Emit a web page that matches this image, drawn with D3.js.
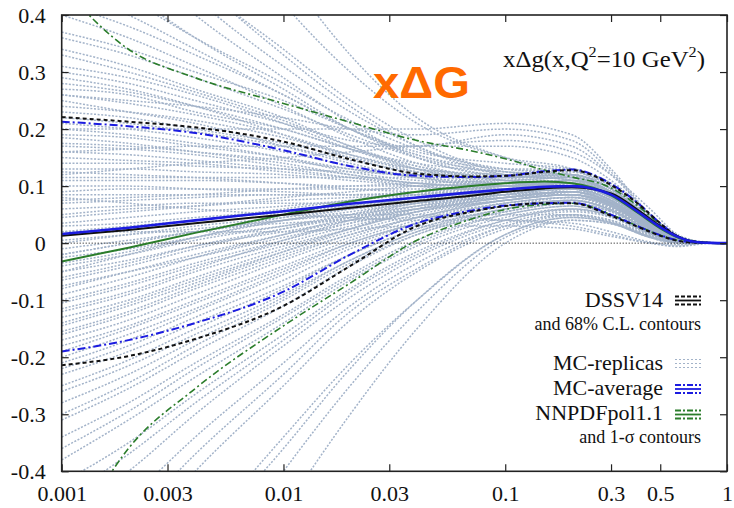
<!DOCTYPE html>
<html><head><meta charset="utf-8">
<script src="https://cdn.jsdelivr.net/npm/d3@7"></script>
<style>body{margin:0;background:#fff} text{font-family:'Liberation Serif','Times New Roman',serif}</style>
</head><body><svg id="c" width="734" height="508"></svg>
<script>
// ---- tick values & labels
const xTicks = [0.001, 0.003, 0.01, 0.03, 0.1, 0.3, 0.5, 1];
const xTickLabels = ["0.001", "0.003", "0.01", "0.03", "0.1", "0.3", "0.5", "1"];
const yTicks = [-0.4, -0.3, -0.2, -0.1, 0, 0.1, 0.2, 0.3, 0.4];
const yTickLabels = ["-0.4", "-0.3", "-0.2", "-0.1", "0", "0.1", "0.2", "0.3", "0.4"];

// ---- central curves & contours (x grid)
const xGrid = [0.001, 0.002, 0.004, 0.01, 0.02, 0.04, 0.07, 0.1, 0.15, 0.2, 0.3, 0.4, 0.5, 0.6, 0.7, 0.85, 1];
const dssvCentral = [0.013, 0.023, 0.035, 0.05, 0.062, 0.074, 0.083, 0.09, 0.096, 0.098, 0.087, 0.057, 0.03, 0.012, 0.003, 0.0004, 0];
const dssvUpper   = [0.221, 0.213, 0.203, 0.178, 0.147, 0.122, 0.117, 0.118, 0.125, 0.128, 0.102, 0.068, 0.035, 0.011, 0.003, 0.0004, 0];
const dssvLower   = [-0.214, -0.198, -0.168, -0.11, -0.04, 0.03, 0.055, 0.065, 0.07, 0.07, 0.048, 0.028, 0.013, 0.004, 0.001, 0.0002, 0];
const mcAverage   = [0.016, 0.027, 0.04, 0.056, 0.069, 0.08, 0.089, 0.094, 0.099, 0.1, 0.085, 0.054, 0.028, 0.011, 0.003, 0.0004, 0];
const mcUpper     = [0.213, 0.205, 0.193, 0.163, 0.135, 0.118, 0.116, 0.118, 0.126, 0.129, 0.104, 0.069, 0.035, 0.012, 0.003, 0.0004, 0];
const mcLower     = [-0.19, -0.17, -0.14, -0.085, -0.02, 0.035, 0.057, 0.066, 0.07, 0.071, 0.05, 0.029, 0.014, 0.005, 0.0015, 0.0002, 0];
const nnpdfCentral= [-0.032, -0.008, 0.018, 0.05, 0.073, 0.09, 0.1, 0.105, 0.108, 0.105, 0.084, 0.052, 0.026, 0.01, 0.003, 0.0004, 0];
const nnpdfUpper  = [0.45, 0.34, 0.29, 0.245, 0.212, 0.18, 0.162, 0.148, 0.128, 0.116, 0.097, 0.064, 0.033, 0.012, 0.004, 0.0005, 0];
const nnpdfLower  = [-0.55, -0.36, -0.255, -0.145, -0.07, 0.005, 0.042, 0.059, 0.068, 0.07, 0.05, 0.029, 0.014, 0.005, 0.0015, 0.0002, 0];

// ---- MC replicas (x grid + values)
const replicaX = [0.001, 0.002, 0.004, 0.01, 0.02, 0.04, 0.1, 0.2, 0.3, 0.45, 0.6, 0.8, 1];
const replicas = [
  [1.2, 0.95, 0.72, 0.48, 0.33, 0.22, 0.15, 0.12, 0.09, 0.04, 0.008, 0.001, 0],
  [0.80, 0.62, 0.47, 0.33, 0.24, 0.17, 0.12, 0.11, 0.085, 0.035, 0.006, 0.0005, 0],
  [0.70, 0.58, 0.46, 0.34, 0.25, 0.18, 0.13, 0.13, 0.10, 0.045, 0.01, 0.001, 0],
  [0.60, 0.50, 0.40, 0.29, 0.21, 0.15, 0.115, 0.105, 0.08, 0.03, 0.005, 0, 0],
  [0.52, 0.44, 0.36, 0.27, 0.20, 0.15, 0.12, 0.12, 0.095, 0.04, 0.008, 0.001, 0],
  [0.45, 0.40, 0.34, 0.26, 0.20, 0.155, 0.13, 0.125, 0.10, 0.045, 0.01, 0.001, 0],
  [0.40, 0.36, 0.31, 0.24, 0.185, 0.14, 0.11, 0.10, 0.075, 0.03, 0.005, 0, 0],
  [0.37, 0.34, 0.30, 0.25, 0.20, 0.16, 0.14, 0.13, 0.105, 0.05, 0.012, 0.001, 0],
  [0.34, 0.31, 0.27, 0.22, 0.17, 0.13, 0.105, 0.10, 0.08, 0.035, 0.006, 0, 0],
  [0.31, 0.29, 0.26, 0.21, 0.165, 0.13, 0.11, 0.115, 0.09, 0.04, 0.008, 0.001, 0],
  [0.29, 0.27, 0.24, 0.19, 0.15, 0.12, 0.10, 0.095, 0.07, 0.028, 0.004, 0, 0],
  [0.27, 0.26, 0.23, 0.20, 0.165, 0.14, 0.125, 0.12, 0.095, 0.042, 0.009, 0.001, 0],
  [0.25, 0.23, 0.21, 0.17, 0.14, 0.115, 0.10, 0.10, 0.08, 0.033, 0.006, 0, 0],
  [0.23, 0.22, 0.20, 0.175, 0.15, 0.13, 0.12, 0.115, 0.088, 0.038, 0.007, 0.001, 0],
  [0.21, 0.20, 0.185, 0.16, 0.135, 0.115, 0.10, 0.105, 0.085, 0.036, 0.006, 0, 0],
  [0.19, 0.185, 0.17, 0.15, 0.13, 0.115, 0.105, 0.10, 0.075, 0.03, 0.005, 0, 0],
  [0.17, 0.165, 0.155, 0.135, 0.12, 0.105, 0.10, 0.11, 0.09, 0.04, 0.008, 0.001, 0],
  [0.15, 0.145, 0.14, 0.125, 0.115, 0.105, 0.10, 0.10, 0.08, 0.034, 0.006, 0, 0],
  [0.13, 0.13, 0.125, 0.12, 0.11, 0.10, 0.095, 0.095, 0.07, 0.028, 0.004, 0, 0],
  [0.11, 0.11, 0.11, 0.105, 0.10, 0.10, 0.105, 0.11, 0.09, 0.04, 0.008, 0.001, 0],
  [0.09, 0.095, 0.095, 0.095, 0.095, 0.095, 0.095, 0.10, 0.08, 0.035, 0.006, 0, 0],
  [0.07, 0.075, 0.08, 0.085, 0.085, 0.09, 0.10, 0.105, 0.085, 0.038, 0.007, 0.001, 0],
  [0.05, 0.06, 0.065, 0.075, 0.08, 0.085, 0.09, 0.095, 0.075, 0.032, 0.005, 0, 0],
  [0.035, 0.045, 0.055, 0.065, 0.075, 0.085, 0.095, 0.10, 0.08, 0.035, 0.006, 0, 0],
  [0.02, 0.03, 0.04, 0.055, 0.065, 0.08, 0.09, 0.095, 0.075, 0.03, 0.005, 0, 0],
  [0.0, 0.015, 0.03, 0.045, 0.06, 0.075, 0.09, 0.10, 0.085, 0.038, 0.007, 0.001, 0],
  [-0.02, 0.0, 0.02, 0.04, 0.055, 0.07, 0.085, 0.09, 0.07, 0.028, 0.004, 0, 0],
  [-0.04, -0.02, 0.005, 0.03, 0.05, 0.07, 0.09, 0.10, 0.08, 0.034, 0.006, 0, 0],
  [-0.06, -0.035, -0.005, 0.025, 0.045, 0.065, 0.085, 0.095, 0.075, 0.03, 0.005, 0, 0],
  [-0.08, -0.05, -0.02, 0.015, 0.04, 0.06, 0.08, 0.09, 0.07, 0.028, 0.004, 0, 0],
  [-0.10, -0.07, -0.035, 0.005, 0.035, 0.06, 0.085, 0.095, 0.075, 0.03, 0.005, 0, 0],
  [-0.12, -0.09, -0.05, -0.005, 0.025, 0.055, 0.08, 0.09, 0.07, 0.027, 0.004, 0, 0],
  [-0.14, -0.105, -0.065, -0.015, 0.02, 0.05, 0.075, 0.085, 0.065, 0.025, 0.004, 0, 0],
  [-0.16, -0.125, -0.08, -0.025, 0.015, 0.045, 0.075, 0.085, 0.068, 0.026, 0.004, 0, 0],
  [-0.18, -0.145, -0.10, -0.04, 0.005, 0.04, 0.07, 0.08, 0.062, 0.024, 0.003, 0, 0],
  [-0.20, -0.16, -0.115, -0.05, 0.0, 0.035, 0.065, 0.075, 0.058, 0.022, 0.003, 0, 0],
  [-0.22, -0.18, -0.13, -0.065, -0.01, 0.03, 0.065, 0.08, 0.063, 0.025, 0.004, 0, 0],
  [-0.25, -0.205, -0.15, -0.08, -0.02, 0.025, 0.06, 0.075, 0.058, 0.022, 0.003, 0, 0],
  [-0.28, -0.23, -0.17, -0.095, -0.03, 0.02, 0.055, 0.07, 0.055, 0.02, 0.003, 0, 0],
  [-0.31, -0.255, -0.19, -0.11, -0.04, 0.015, 0.055, 0.07, 0.055, 0.02, 0.003, 0, 0],
  [-0.34, -0.28, -0.21, -0.125, -0.055, 0.005, 0.05, 0.065, 0.05, 0.018, 0.002, 0, 0],
  [-0.38, -0.31, -0.235, -0.14, -0.065, -0.005, 0.045, 0.06, 0.048, 0.017, 0.002, 0, 0],
  [-0.42, -0.35, -0.265, -0.16, -0.08, -0.015, 0.04, 0.058, 0.046, 0.016, 0.002, 0, 0],
  [-0.48, -0.40, -0.30, -0.18, -0.095, -0.025, 0.035, 0.055, 0.045, 0.015, 0.002, 0, 0],
  [-0.55, -0.45, -0.34, -0.21, -0.11, -0.035, 0.03, 0.05, 0.04, 0.013, 0.001, 0, 0],
  [-0.65, -0.53, -0.40, -0.25, -0.135, -0.05, 0.025, 0.048, 0.038, 0.012, 0.001, 0, 0],
  [-0.78, -0.66, -0.52, -0.34, -0.21, -0.10, 0.015, 0.045, 0.036, 0.011, 0.001, 0, 0],
  [-0.95, -0.80, -0.62, -0.40, -0.25, -0.12, 0.01, 0.04, 0.034, 0.01, 0.001, 0, 0],
  [-1.1, -0.92, -0.72, -0.47, -0.30, -0.15, 0.0, 0.04, 0.034, 0.01, 0.001, 0, 0],
  [0.30, 0.28, 0.25, 0.21, 0.18, 0.17, 0.19, 0.17, 0.12, 0.05, 0.01, 0.001, 0],
  [0.12, 0.13, 0.14, 0.15, 0.16, 0.17, 0.18, 0.16, 0.12, 0.06, 0.015, 0.002, 0],
  [-0.05, -0.02, 0.01, 0.04, 0.05, 0.05, 0.04, 0.03, 0.015, 0.0, -0.005, 0, 0],
  [0.08, 0.07, 0.06, 0.05, 0.045, 0.04, 0.04, 0.035, 0.02, 0.002, -0.003, 0, 0],
  [0.20, 0.19, 0.175, 0.15, 0.125, 0.11, 0.105, 0.11, 0.088, 0.038, 0.007, 0.001, 0],
  [0.185, 0.175, 0.16, 0.14, 0.12, 0.105, 0.095, 0.09, 0.07, 0.03, 0.005, 0, 0],
  [0.175, 0.17, 0.16, 0.145, 0.13, 0.12, 0.115, 0.12, 0.095, 0.042, 0.009, 0.001, 0],
  [0.16, 0.155, 0.145, 0.13, 0.115, 0.10, 0.09, 0.085, 0.065, 0.026, 0.004, 0, 0],
  [0.14, 0.14, 0.135, 0.13, 0.125, 0.12, 0.12, 0.125, 0.10, 0.046, 0.01, 0.001, 0],
  [0.125, 0.12, 0.115, 0.105, 0.095, 0.09, 0.085, 0.09, 0.072, 0.03, 0.005, 0, 0],
  [0.115, 0.115, 0.115, 0.115, 0.115, 0.115, 0.115, 0.115, 0.09, 0.04, 0.008, 0.001, 0],
  [0.10, 0.10, 0.095, 0.09, 0.085, 0.085, 0.09, 0.10, 0.085, 0.037, 0.007, 0.001, 0],
  [0.085, 0.085, 0.085, 0.085, 0.085, 0.085, 0.085, 0.085, 0.065, 0.026, 0.004, 0, 0],
  [0.075, 0.08, 0.085, 0.095, 0.10, 0.105, 0.11, 0.115, 0.095, 0.043, 0.009, 0.001, 0],
  [0.06, 0.065, 0.07, 0.07, 0.07, 0.075, 0.08, 0.09, 0.072, 0.03, 0.005, 0, 0],
  [0.045, 0.055, 0.065, 0.08, 0.09, 0.10, 0.105, 0.105, 0.085, 0.036, 0.006, 0, 0],
  [0.03, 0.035, 0.045, 0.055, 0.06, 0.07, 0.08, 0.085, 0.068, 0.027, 0.004, 0, 0],
  [0.015, 0.025, 0.04, 0.06, 0.075, 0.09, 0.10, 0.105, 0.088, 0.039, 0.007, 0.001, 0],
  [0.005, 0.015, 0.025, 0.04, 0.05, 0.065, 0.08, 0.09, 0.072, 0.03, 0.005, 0, 0],
  [-0.01, 0.005, 0.02, 0.045, 0.065, 0.085, 0.10, 0.11, 0.09, 0.04, 0.008, 0.001, 0],
  [-0.025, -0.01, 0.01, 0.03, 0.045, 0.06, 0.075, 0.085, 0.068, 0.027, 0.004, 0, 0],
  [-0.035, -0.015, 0.01, 0.04, 0.06, 0.08, 0.095, 0.105, 0.085, 0.037, 0.007, 0.001, 0],
  [-0.05, -0.03, -0.005, 0.02, 0.04, 0.06, 0.08, 0.09, 0.07, 0.028, 0.004, 0, 0],
  [-0.065, -0.04, -0.01, 0.025, 0.05, 0.075, 0.095, 0.10, 0.08, 0.034, 0.006, 0, 0],
  [-0.075, -0.05, -0.025, 0.01, 0.035, 0.055, 0.075, 0.085, 0.066, 0.026, 0.004, 0, 0],
  [-0.09, -0.06, -0.025, 0.015, 0.045, 0.07, 0.09, 0.10, 0.082, 0.035, 0.006, 0, 0],
  [-0.105, -0.075, -0.04, 0.0, 0.03, 0.055, 0.075, 0.085, 0.068, 0.027, 0.004, 0, 0],
  [-0.115, -0.085, -0.045, 0.005, 0.04, 0.065, 0.09, 0.10, 0.08, 0.034, 0.006, 0, 0],
  [-0.13, -0.10, -0.06, -0.01, 0.025, 0.055, 0.08, 0.09, 0.072, 0.03, 0.005, 0, 0],
  [-0.145, -0.11, -0.07, -0.015, 0.025, 0.06, 0.085, 0.095, 0.076, 0.032, 0.005, 0, 0],
  [-0.155, -0.12, -0.075, -0.02, 0.015, 0.045, 0.07, 0.08, 0.063, 0.025, 0.004, 0, 0],
  [-0.17, -0.135, -0.09, -0.03, 0.01, 0.045, 0.075, 0.085, 0.068, 0.027, 0.004, 0, 0],
  [-0.19, -0.15, -0.105, -0.045, 0.0, 0.035, 0.065, 0.075, 0.06, 0.023, 0.003, 0, 0],
  [-0.21, -0.17, -0.12, -0.055, -0.005, 0.035, 0.07, 0.08, 0.065, 0.025, 0.004, 0, 0],
  [0.22, 0.21, 0.195, 0.17, 0.145, 0.125, 0.11, 0.105, 0.08, 0.033, 0.006, 0, 0],
  [0.24, 0.23, 0.215, 0.185, 0.155, 0.13, 0.115, 0.12, 0.095, 0.042, 0.009, 0.001, 0],
  [0.26, 0.245, 0.225, 0.19, 0.155, 0.125, 0.105, 0.105, 0.08, 0.034, 0.006, 0, 0],
  [0.28, 0.265, 0.24, 0.20, 0.165, 0.135, 0.115, 0.115, 0.09, 0.04, 0.008, 0.001, 0],
  [0.33, 0.30, 0.265, 0.215, 0.17, 0.135, 0.11, 0.105, 0.08, 0.034, 0.006, 0, 0],
  [0.36, 0.33, 0.29, 0.235, 0.19, 0.15, 0.125, 0.12, 0.095, 0.042, 0.009, 0.001, 0],
  [0.42, 0.38, 0.33, 0.26, 0.20, 0.155, 0.12, 0.11, 0.085, 0.036, 0.007, 0.001, 0],
  [0.50, 0.43, 0.36, 0.28, 0.215, 0.165, 0.13, 0.12, 0.09, 0.04, 0.008, 0.001, 0],
  [0.65, 0.54, 0.43, 0.31, 0.23, 0.17, 0.125, 0.115, 0.085, 0.035, 0.006, 0, 0],
  [1.1, 0.85, 0.62, 0.42, 0.30, 0.21, 0.15, 0.13, 0.095, 0.04, 0.008, 0.001, 0],
  [-0.23, -0.19, -0.14, -0.075, -0.02, 0.025, 0.06, 0.075, 0.06, 0.023, 0.003, 0, 0],
  [-0.26, -0.215, -0.16, -0.09, -0.03, 0.02, 0.06, 0.075, 0.058, 0.022, 0.003, 0, 0],
  [-0.30, -0.245, -0.18, -0.10, -0.035, 0.015, 0.055, 0.07, 0.056, 0.021, 0.003, 0, 0],
  [-0.36, -0.295, -0.22, -0.13, -0.06, 0.0, 0.05, 0.065, 0.05, 0.018, 0.002, 0, 0],
  [-0.45, -0.37, -0.28, -0.17, -0.085, -0.02, 0.04, 0.06, 0.048, 0.017, 0.002, 0, 0],
  [-0.60, -0.49, -0.37, -0.23, -0.12, -0.045, 0.03, 0.05, 0.04, 0.013, 0.001, 0, 0],
  [-0.85, -0.70, -0.54, -0.36, -0.22, -0.10, 0.015, 0.045, 0.036, 0.011, 0.001, 0, 0],
  [0.16, 0.165, 0.17, 0.17, 0.17, 0.17, 0.17, 0.15, 0.11, 0.05, 0.012, 0.001, 0],
  [0.02, 0.02, 0.02, 0.02, 0.025, 0.03, 0.03, 0.025, 0.012, 0.0, -0.006, -0.001, 0],
  [-0.02, 0.0, 0.02, 0.035, 0.04, 0.045, 0.05, 0.05, 0.035, 0.01, -0.002, 0, 0],
  [0.20, 0.20, 0.20, 0.20, 0.20, 0.20, 0.21, 0.19, 0.13, 0.05, 0.01, 0.001, 0],
  [0.26, 0.25, 0.24, 0.22, 0.20, 0.19, 0.20, 0.18, 0.125, 0.048, 0.01, 0.001, 0]
];

// ---- legend
const legendLabels = ["DSSV14", "MC-replicas", "MC-average", "NNPDFpol1.1"];
const legendNotes = ["and 68% C.L. contours", "and 1-\u03C3 contours"];

// ================= drawing =================
const svg = d3.select("#c");
const L = 61.7, R = 727, T = 15, B = 471.3;
const x = d3.scaleLog().domain([0.001, 1]).range([L, R]);
const y = d3.scaleLinear().domain([-0.4, 0.4]).range([B, T]);
const serif = "'Liberation Serif','Times New Roman',serif";
const repColor = "#a3b3c9";

svg.append("defs").append("clipPath").attr("id", "clip")
  .append("rect").attr("x", L).attr("y", T).attr("width", R - L).attr("height", B - T);

const plot = svg.append("g").attr("clip-path", "url(#clip)");

const lineRep = d3.line().x((d, i) => x(replicaX[i])).y(d => y(d)).curve(d3.curveMonotoneX);
plot.selectAll("path.rep").data(replicas).enter().append("path")
  .attr("class", "rep").attr("d", lineRep).attr("fill", "none")
  .attr("stroke", repColor).attr("stroke-width", 1.5).attr("stroke-dasharray", "2,1.6");

// zero line
plot.append("line").attr("x1", L).attr("x2", R).attr("y1", y(0)).attr("y2", y(0))
  .attr("stroke", "#000").attr("stroke-width", 1).attr("stroke-dasharray", "1,2");

const lineG = d3.line().x((d, i) => x(xGrid[i])).y(d => y(d)).curve(d3.curveMonotoneX);
function curve(data, color, w, dash) {
  const p = plot.append("path").attr("d", lineG(data)).attr("fill", "none")
    .attr("stroke", color).attr("stroke-width", w);
  if (dash) p.attr("stroke-dasharray", dash);
}
const cGreen = "#2b7d2b", cBlue = "#1c1ce0", cBlack = "#111";
curve(nnpdfUpper, cGreen, 1.6, "7,3,2,3");
curve(nnpdfLower, cGreen, 1.6, "7,3,2,3");
curve(mcUpper, cBlue, 2, "8,3,2,3");
curve(mcLower, cBlue, 2, "8,3,2,3");
curve(dssvUpper, cBlack, 2, "4,3");
curve(dssvLower, cBlack, 2, "4,3");
curve(nnpdfCentral, cGreen, 2, null);
curve(dssvCentral, cBlack, 2, null);
curve(mcAverage, cBlue, 2.6, null);

// axes
const fmtX = d => xTickLabels[xTicks.indexOf(d)];
const fmtY = d => yTickLabels[yTicks.indexOf(d)];
const ax = (g) => g.attr("font-family", serif)
  .call(s => s.select(".domain").remove())
  .call(s => s.selectAll("text").style("font-family", serif).attr("font-size", 22).attr("fill", "#111"))
  .call(s => s.selectAll("line").attr("stroke", "#222").attr("stroke-width", 1.2));
svg.append("g").attr("transform", `translate(0,${B})`)
  .call(d3.axisBottom(x).tickValues(xTicks).tickFormat(fmtX).tickSizeInner(-7).tickSizeOuter(0).tickPadding(14)).call(ax);
svg.append("g").attr("transform", `translate(0,${T})`)
  .call(d3.axisTop(x).tickValues(xTicks).tickFormat("").tickSizeInner(-7).tickSizeOuter(0)).call(ax);
svg.append("g").attr("transform", `translate(${L},0)`)
  .call(d3.axisLeft(y).tickValues(yTicks).tickFormat(fmtY).tickSizeInner(-7).tickSizeOuter(0).tickPadding(16)).call(ax);
svg.append("g").attr("transform", `translate(${R},0)`)
  .call(d3.axisRight(y).tickValues(yTicks).tickFormat("").tickSizeInner(-7).tickSizeOuter(0)).call(ax);

svg.append("rect").attr("x", L).attr("y", T).attr("width", R - L).attr("height", B - T)
  .attr("fill", "none").attr("stroke", "#222").attr("stroke-width", 1.6);

// title
const t = svg.append("text").attr("x", 503).attr("y", 67)
  .attr("textLength", 202).attr("lengthAdjust", "spacingAndGlyphs")
  .attr("font-size", 23).attr("fill", "#111");
t.append("tspan").text("x\u0394g(x,Q");
t.append("tspan").attr("font-size", 15).attr("dy", -10).text("2");
t.append("tspan").attr("dy", 10).text("=10 GeV");
t.append("tspan").attr("font-size", 15).attr("dy", -10).text("2");
t.append("tspan").attr("dy", 10).text(")");

svg.append("text").attr("x", 373).attr("y", 98).attr("textLength", 97).attr("lengthAdjust", "spacingAndGlyphs")
  .style("font-family", "'Liberation Sans',Arial,sans-serif").attr("font-weight", "bold")
  .attr("font-size", 44).attr("fill", "#ff6a00").text("x\u0394G");

// legend
const legY = [307, 370, 395, 420];
const lg = svg.append("g");
legendLabels.forEach((lab, i) => {
  lg.append("text").attr("x", 663).attr("y", legY[i]).attr("text-anchor", "end")
    .attr("font-size", 22).attr("fill", "#111").text(lab);
});
lg.append("text").attr("x", 701).attr("y", 330).attr("text-anchor", "end")
  .attr("font-size", 18).attr("fill", "#111").text(legendNotes[0]);
lg.append("text").attr("x", 701).attr("y", 443).attr("text-anchor", "end")
  .attr("font-size", 18).attr("fill", "#111").text(legendNotes[1]);

const samples = [
  {yc: 300.5, color: cBlack, outer: "4,2", w: 1.8, mid: null},
  {yc: 363.5, color: repColor, outer: "2,2", w: 1.2, mid: "2,2"},
  {yc: 389, color: cBlue, outer: "6,2,2,2", w: 1.8, mid: null},
  {yc: 414.5, color: cGreen, outer: "6,2,2,2", w: 1.8, mid: null}
];
samples.forEach(s => {
  [-4, 0, 4].forEach(o => {
    const ln = lg.append("line").attr("x1", 675).attr("x2", 701).attr("y1", s.yc + o).attr("y2", s.yc + o)
      .attr("stroke", s.color).attr("stroke-width", s.w);
    const dash = o === 0 ? s.mid : s.outer;
    if (dash) ln.attr("stroke-dasharray", dash);
  });
});
</script></body></html>
